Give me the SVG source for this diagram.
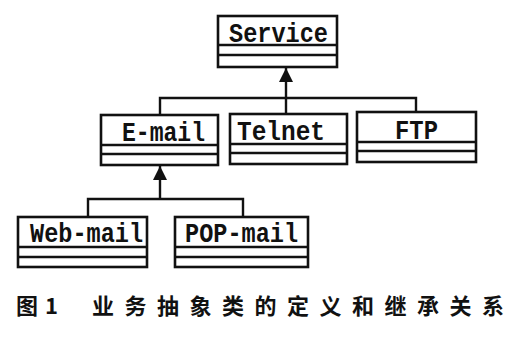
<svg xmlns="http://www.w3.org/2000/svg" width="530" height="346" viewBox="0 0 530 346">
<style>
.box{fill:#fff;stroke:#111;stroke-width:2.6}
.sep{stroke:#111;stroke-width:2.4}
.lbl{font-family:"Liberation Mono","DejaVu Sans Mono",monospace;font-weight:bold;font-size:28px;fill:#111}
.con{fill:none;stroke:#111;stroke-width:2.4}
.cap{font-family:"Noto Sans CJK SC","Noto Sans",sans-serif;font-weight:bold;font-size:22px;fill:#111}
</style>
<defs>
<marker id="tri" viewBox="0 0 14 14" refX="14" refY="7" markerWidth="14" markerHeight="14" markerUnits="userSpaceOnUse" orient="auto">
<path d="M0,0 L14,7 L0,14 Z" fill="#111"/>
</marker>
</defs>
<rect width="530" height="346" fill="#fff"/>
<g id="connectors">
<path class="con" d="M286,98 V68" marker-end="url(#tri)"/>
<path class="con" d="M160,114 V98 H416 V112"/>
<path class="con" d="M286,98 V114"/>
<path class="con" d="M160,199 V166" marker-end="url(#tri)"/>
<path class="con" d="M88,217 V199 H243 V217"/>
</g>
<g id="service">
<rect class="box" x="218" y="16" width="119" height="51"/>
<line class="sep" x1="218" y1="45" x2="337" y2="45"/>
<line class="sep" x1="218" y1="55" x2="337" y2="55"/>
<text class="lbl" x="229" y="42" textLength="99" lengthAdjust="spacingAndGlyphs">Service</text>
</g>
<g id="email">
<rect class="box" x="101" y="115" width="117" height="50"/>
<line class="sep" x1="101" y1="145" x2="218" y2="145"/>
<line class="sep" x1="101" y1="154" x2="218" y2="154"/>
<text class="lbl" x="122" y="141" textLength="83" lengthAdjust="spacingAndGlyphs">E-mail</text>
</g>
<g id="telnet">
<rect class="box" x="230" y="114" width="117" height="50"/>
<line class="sep" x1="230" y1="144" x2="347" y2="144"/>
<line class="sep" x1="230" y1="153" x2="347" y2="153"/>
<text class="lbl" x="237" y="140" textLength="88" lengthAdjust="spacingAndGlyphs">Telnet</text>
</g>
<g id="ftp">
<rect class="box" x="357" y="112" width="119" height="50"/>
<line class="sep" x1="357" y1="142" x2="476" y2="142"/>
<line class="sep" x1="357" y1="151" x2="476" y2="151"/>
<text class="lbl" x="395" y="139" textLength="43" lengthAdjust="spacingAndGlyphs">FTP</text>
</g>
<g id="webmail">
<rect class="box" x="18" y="217" width="129" height="50"/>
<line class="sep" x1="18" y1="247" x2="147" y2="247"/>
<line class="sep" x1="18" y1="257" x2="147" y2="257"/>
<text class="lbl" x="30" y="242" textLength="113" lengthAdjust="spacingAndGlyphs">Web-mail</text>
</g>
<g id="popmail">
<rect class="box" x="175" y="217" width="133" height="50"/>
<line class="sep" x1="175" y1="247" x2="308" y2="247"/>
<line class="sep" x1="175" y1="257" x2="308" y2="257"/>
<text class="lbl" x="185" y="242" textLength="113" lengthAdjust="spacingAndGlyphs">POP-mail</text>
</g>
<text class="cap" x="16" y="314">图</text>
<text class="cap" x="45" y="314">1</text>
<text class="cap" x="92" y="314" textLength="412" lengthAdjust="spacing">业务抽象类的定义和继承关系</text>
</svg>
